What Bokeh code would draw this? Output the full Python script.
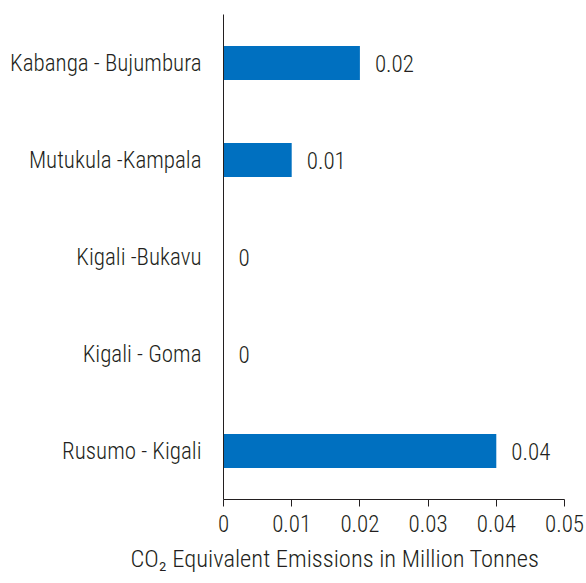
from bokeh.plotting import figure
from bokeh.models import ColumnDataSource, FixedTicker, Title
from bokeh.core.properties import value
from bokeh.embed import file_html
from bokeh.resources import INLINE

categories = ["Rusumo - Kigali", "Kigali - Goma", "Kigali -Bukavu", "Mutukula -Kampala", "Kabanga - Bujumbura"]
emissions = [0.04, 0, 0, 0.01, 0.02]
value_labels = ["0.04", "0", "0", "0.01", "0.02"]
x_ticks = [0, 0.01, 0.02, 0.03, 0.04, 0.05]
x_title = "CO\u2082 Equivalent Emissions in Million Tonnes"

FONT = "'Roboto Condensed Light', 'Roboto Condensed', sans-serif"
TXT = "#231f20"
FS = "23px"

src = ColumnDataSource(dict(cat=categories, val=emissions, lab=value_labels))

p = figure(y_range=categories, x_range=(0, 0.05), width=586, height=583,
           output_backend="svg", toolbar_location=None,
           min_border_left=223, min_border_right=22, min_border_top=14, min_border_bottom=84)
p.outline_line_color = None
p.grid.grid_line_color = None
p.y_range.range_padding = 0

p.hbar(y="cat", right="val", left=0, height=0.35, source=src, color="#0070c0", line_color=None)
p.text(x="val", y="cat", text="lab", source=src, x_offset=15, text_align="left",
       text_baseline="middle", text_font=value(FONT), text_font_size=FS, text_color=TXT)

p.xaxis.ticker = FixedTicker(ticks=x_ticks)
p.xaxis.major_label_overrides = {t: ("0" if t == 0 else f"{t:.2f}") for t in x_ticks}
p.xaxis.minor_tick_line_color = None
p.xaxis.major_tick_in = 0
p.xaxis.major_tick_out = 7
p.xaxis.major_label_standoff = 8
p.yaxis.major_tick_line_color = None
p.yaxis.minor_tick_line_color = None
p.yaxis.major_label_standoff = 16
for ax in (p.xaxis, p.yaxis):
    ax.axis_line_color = TXT
    ax.major_label_text_font = FONT
    ax.major_label_text_font_size = FS
    ax.major_label_text_color = TXT
p.xaxis.major_tick_line_color = TXT

p.add_layout(Title(text=x_title, align="left", offset=-93, standoff=14,
                   text_font=FONT, text_font_size="24.5px", text_font_style="normal",
                   text_color=TXT), "below")

open("out.html", "w").write(file_html(p, INLINE))
